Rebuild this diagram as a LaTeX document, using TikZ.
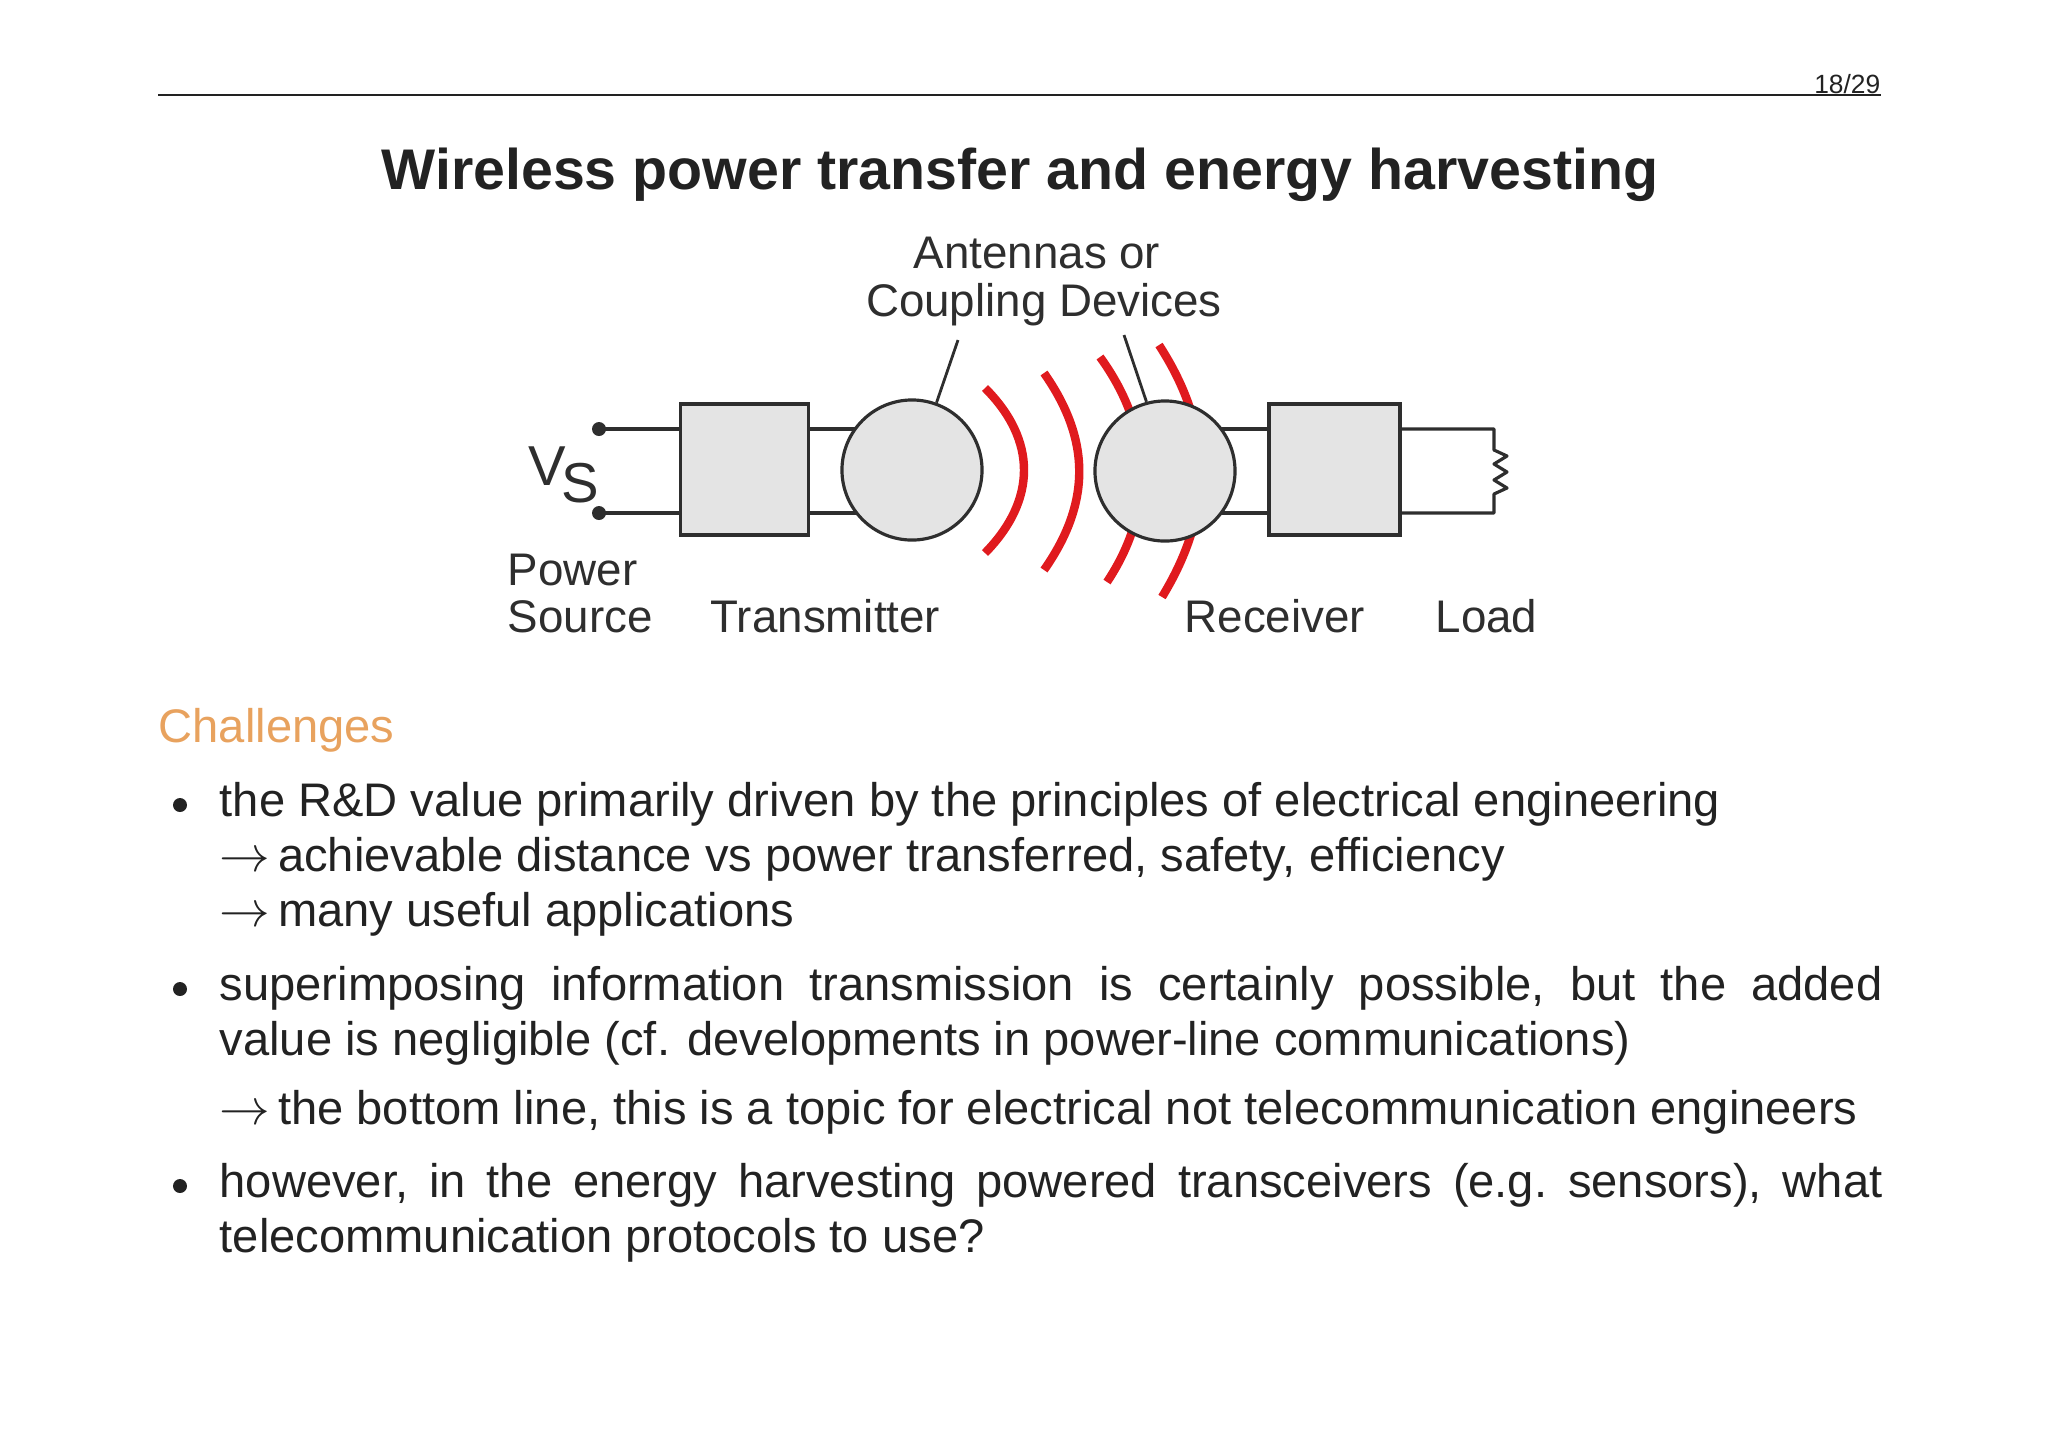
\documentclass[tikz,border=0pt]{standalone}
\usepackage{fontspec}
\setmainfont{Liberation Sans}
\setsansfont{Liberation Sans}
\definecolor{ink}{HTML}{222222}
\definecolor{dg}{HTML}{2E2E2E}
\definecolor{boxfill}{HTML}{E4E4E4}
\definecolor{wave}{HTML}{E01A1E}
\definecolor{orng}{HTML}{E8A25E}
\tikzset{
  lbl/.style={anchor=base west,inner sep=0pt,text=dg,font=\fontsize{13}{14}\selectfont},
  blk/.style={draw=dg,line width=0.9pt,fill=boxfill,minimum width=1.28cm,minimum height=1.31cm,inner sep=0pt},
  ant/.style={circle,draw=dg,line width=0.9pt,fill=boxfill,minimum size=1.40cm,inner sep=0pt},
  wire/.style={draw=dg,line width=0.9pt},
  rwave/.style={draw=wave,line width=2.4pt},
  body/.style={anchor=base west,inner sep=0pt,text=ink,font=\fontsize{13.4}{15.6}\selectfont},
}
\begin{document}
\begin{tikzpicture}[x=0.01cm,y=-0.01cm]
\useasboundingbox (0,0) rectangle (2048,1447);
% header
\draw[ink,line width=0.4pt] (158,95) -- (1881,95);
\node[anchor=base east,inner sep=0pt,text=ink,font=\fontsize{7.5}{8}\selectfont] (pg) at (1881,93) {18/29};
\node[anchor=base,inner sep=0pt,text=ink,font=\bfseries\fontsize{16.3}{18}\selectfont] (title) at (1020,189) {Wireless power transfer and energy harvesting};
% wires
\coordinate (d1) at (599,429);
\coordinate (d2) at (599,513);
\node[blk] (tx) at (744.5,469.5) {};
\node[blk,minimum width=1.31cm] (rx) at (1334.5,469.5) {};
\coordinate (txc) at (912,470);
\coordinate (rxc) at (1165,471);
\draw[wire] (d1) -- (d1 -| tx.west) (d2) -- (d2 -| tx.west);
\draw[wire] (d1 -| tx.east) -- (d1 -| txc) (d2 -| tx.east) -- (d2 -| txc);
\draw[wire] (d1 -| rxc) -- (d1 -| rx.west) (d2 -| rxc) -- (d2 -| rx.west);
\coordinate (r1) at (1494,429);
\coordinate (r2) at (1494,513);
\draw[wire,line join=round] (r1 -| rx.east) -- (r1) -- (1494,450) -- (1507,456) -- (1494,464) -- (1507,472) -- (1494,480) -- (1507,488) -- (1494,494) -- (r2) -- (r2 -| rx.east);
\fill[dg] (d1) circle (7) (d2) circle (7);
% waves
\draw[rwave] (985,388) .. controls (1037,440) and (1037,500) .. (985,553);
\draw[rwave] (1044,373) .. controls (1091,440) and (1091,503) .. (1044,570);
\draw[rwave] (1100,357) .. controls (1153,430) and (1155,510) .. (1107,582);
\draw[rwave] (1159,345) .. controls (1214,430) and (1214,512) .. (1162,597);
% antennas
\node[ant] (ta) at (txc) {};
\node[ant] (ra) at (rxc) {};
\node[blk] at (tx) {};
\node[blk,minimum width=1.31cm] at (rx) {};
% labels
\node[lbl,anchor=base] (a1) at (1037,268) {Antennas or};
\node[lbl,anchor=base] (a2) at (1044,316) {Coupling Devices};
\coordinate (p1) at (958,340);
\coordinate (p2) at (1124,335);
\draw[wire,line width=0.8pt] (p1) -- (ta.70);
\draw[wire,line width=0.8pt] (p2) -- (ra.105);
\node[lbl,font=\fontsize{16}{17}\selectfont] (vv) at (528,485) {V};
\node[lbl,font=\fontsize{16}{17}\selectfont] (vs) at (561,502) {S};
\node[lbl] (pw) at (507,585) {Power};
\node[lbl] (src) at (507,632) {Source};
\node[lbl] (tl) at (710,632) {Transmitter};
\node[lbl] (rl) at (1184,632) {Receiver};
\node[lbl] (ll) at (1435,632) {Load};
% body
\node[body,text=orng,font=\fontsize{13.4}{15}\selectfont] (ch) at (158,742) {Challenges};
\foreach \y in {816,1000,1197} {\fill[ink] (180,\y-11) circle (7);}
\node[body] (b1) at (219,816) {the R\&D value primarily driven by the principles of electrical engineering};
\node[body] (b1a) at (219,871) {$\rightarrow$\,achievable distance vs power transferred, safety, efficiency};
\node[body] (b1b) at (219,926) {$\rightarrow$\,many useful applications};
\node[body] (b2) at (219,1000) {\hbox to 16.62cm{superimposing\hfill information\hfill transmission\hfill is\hfill certainly\hfill possible,\hfill but\hfill the\hfill added}};
\node[body] (b2a) at (219,1055) {value is negligible (cf. developments in power-line communications)};
\node[body] (b2b) at (219,1124) {$\rightarrow$\,the bottom line, this is a topic for electrical not telecommunication engineers};
\node[body] (b3) at (219,1197) {\hbox to 16.62cm{however,\hfill in\hfill the\hfill energy\hfill harvesting\hfill powered\hfill transceivers\hfill (e.g.\hfill sensors),\hfill what}};
\node[body] (b3a) at (219,1252) {telecommunication protocols to use?};
\end{tikzpicture}
\end{document}
